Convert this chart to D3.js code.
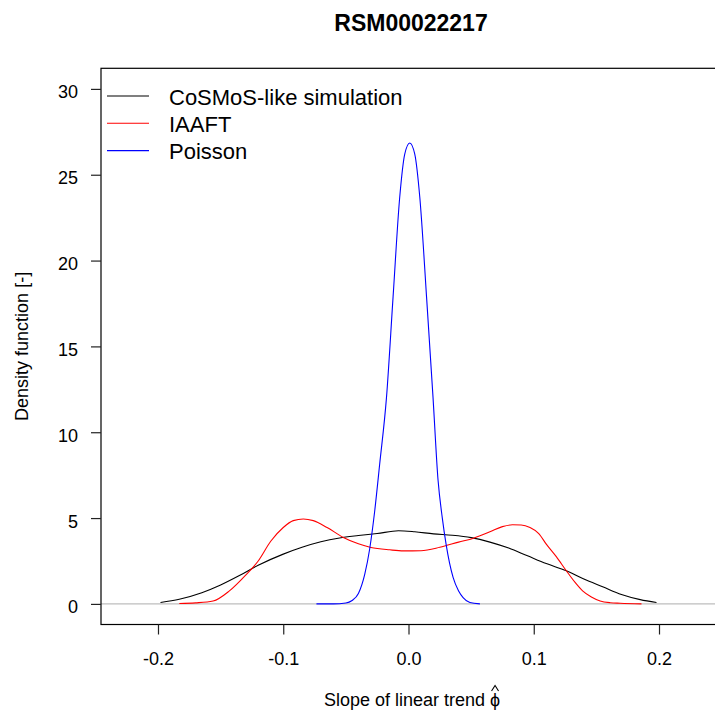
<!DOCTYPE html>
<html lang="en">
<head>
    <meta charset="UTF-8">
    <title>RSM00022217</title>
    <script src="https://cdn.jsdelivr.net/npm/d3@7"></script>
    <style>
        html, body {
            padding: 0;
            margin: 0;
            background: white;
        }

        svg {
            display: block;
            font-family: "Liberation Sans", Arial, sans-serif;
        }
    </style>
</head>
<body>
<div id="chart"></div>
<script>
    let title = "RSM00022217";

    // CoSMoS-like simulation (black)
    let cosmosX = [-0.198, -0.183, -0.165, -0.150, -0.135, -0.120, -0.100, -0.085, -0.070, -0.055, -0.040, -0.025,
        -0.008, 0.005, 0.020, 0.035, 0.050, 0.065, 0.080, 0.095, 0.110, 0.126, 0.140, 0.155, 0.170, 0.185, 0.198];
    let cosmosY = [0.08, 0.27, 0.65, 1.1, 1.65, 2.25, 2.9, 3.3, 3.62, 3.84, 3.98, 4.1,
        4.26, 4.2, 4.08, 4.0, 3.86, 3.6, 3.25, 2.8, 2.35, 1.93, 1.45, 1.0, 0.55, 0.25, 0.08];

    // IAAFT (red)
    let iaaftX = [-0.183, -0.170, -0.156, -0.143, -0.130, -0.120, -0.110, -0.100, -0.092, -0.084, -0.076, -0.065,
        -0.052, -0.040, -0.030, -0.015, -0.004, 0.010, 0.025, 0.040, 0.052, 0.065, 0.075, 0.083, 0.090, 0.097,
        0.104, 0.110, 0.118, 0.126, 0.133, 0.139, 0.146, 0.153, 0.161, 0.169, 0.186];
    let iaaftY = [0.02, 0.06, 0.17, 0.76, 1.68, 2.5, 3.65, 4.45, 4.85, 4.95, 4.85, 4.45,
        3.87, 3.5, 3.29, 3.15, 3.09, 3.1, 3.3, 3.6, 3.83, 4.2, 4.5, 4.61, 4.6, 4.45,
        4.1, 3.48, 2.75, 1.93, 1.25, 0.76, 0.4, 0.17, 0.07, 0.04, 0.0];

    // Poisson (blue)
    let poissonX = [-0.0735, -0.060, -0.050, -0.045, -0.040, -0.035, -0.031, -0.027, -0.023, -0.0176, -0.0123,
        -0.007, -0.003, 0.001, 0.005, 0.009, 0.0144, 0.0196, 0.0236, 0.027, 0.030, 0.0356, 0.040, 0.0436, 0.049, 0.057];
    let poissonY = [0, 0, 0.05, 0.2, 0.6, 1.7, 3.2, 5.4, 8.15, 12.0, 17.9,
        23.7, 26.2, 26.85, 26.2, 23.7, 17.9, 12.0, 7.2, 5.0, 3.48, 1.54, 0.75, 0.37, 0.08, 0];

    let legendLabels = ["CoSMoS-like simulation", "IAAFT", "Poisson"];
    let legendColors = ["#000000", "#ff0000", "#0000ff"];

    let xTicks = [-0.2, -0.1, 0.0, 0.1, 0.2];
    let yTicks = [0, 5, 10, 15, 20, 25, 30];

    let width = 715, height = 711;
    let pLeft = 101, pRight = 716, pTop = 68.3, pBottom = 624.5;

    let svg = d3.select("#chart").append("svg")
        .attr("width", width)
        .attr("height", height);

    let x = d3.scaleLinear().domain([-0.2455, 0.2455]).range([pLeft, pRight]);
    let y = d3.scaleLinear().domain([-1.2, 31.2]).range([pBottom, pTop]);

    // title
    svg.append("text")
        .text(title)
        .attr("x", 411)
        .attr("y", 31)
        .style("font-size", "23px")
        .style("font-weight", "700")
        .style("text-anchor", "middle");

    // clip for plot area
    svg.append("clipPath").attr("id", "clip")
        .append("rect")
        .attr("x", pLeft).attr("y", pTop)
        .attr("width", pRight - pLeft).attr("height", pBottom - pTop);

    let plot = svg.append("g").attr("clip-path", "url(#clip)");

    // zero line
    plot.append("line")
        .attr("x1", pLeft).attr("x2", pRight)
        .attr("y1", y(0)).attr("y2", y(0))
        .attr("stroke", "#bebebe")
        .attr("stroke-width", 1.3);

    let line = d3.line()
        .x(function (d) { return x(d[0]); })
        .y(function (d) { return y(d[1]); })
        .curve(d3.curveMonotoneX);

    let series = [
        [cosmosX, cosmosY, legendColors[0]],
        [iaaftX, iaaftY, legendColors[1]],
        [poissonX, poissonY, legendColors[2]]
    ];

    series.forEach(function (s) {
        let pts = s[0].map(function (v, i) { return [v, s[1][i]]; });
        plot.append("path")
            .datum(pts)
            .attr("d", line)
            .attr("fill", "none")
            .attr("stroke", s[2])
            .attr("stroke-width", 1.1);
    });

    // box
    svg.append("rect")
        .attr("x", pLeft).attr("y", pTop)
        .attr("width", pRight - pLeft).attr("height", pBottom - pTop)
        .attr("fill", "none")
        .attr("stroke", "#000")
        .attr("stroke-width", 1.2);

    // axes
    let xAxis = svg.append("g")
        .attr("transform", "translate(0," + pBottom + ")")
        .call(d3.axisBottom(x).tickValues(xTicks).tickSize(10));
    xAxis.select(".domain").remove();
    xAxis.selectAll("text")
        .attr("y", 40)
        .attr("dy", null)
        .style("font-size", "18px")
        .style("font-family", "'Liberation Sans', Arial, sans-serif")
        .attr("fill", "#000")
        .text(function (d) { return d3.format(".1f")(d).replace("\u2212", "-"); });
    xAxis.selectAll("line").attr("stroke", "#222").attr("stroke-width", 1.2);

    let yAxis = svg.append("g")
        .attr("transform", "translate(" + pLeft + ",0)")
        .call(d3.axisLeft(y).tickValues(yTicks).tickSize(10));
    yAxis.select(".domain").remove();
    yAxis.selectAll("text")
        .attr("x", -23)
        .attr("dy", "0.5em")
        .style("font-size", "18px")
        .style("font-family", "'Liberation Sans', Arial, sans-serif")
        .attr("fill", "#000");
    yAxis.selectAll("line").attr("stroke", "#222").attr("stroke-width", 1.2);

    // axis titles
    svg.append("text")
        .text("Density function [-]")
        .attr("transform", "translate(28," + ((pTop + pBottom) / 2) + ") rotate(-90)")
        .style("font-size", "18px")
        .style("text-anchor", "middle");

    // x title, with a small drawn hat over the phi
    let xl = svg.append("text")
        .attr("x", 412)
        .attr("y", 706)
        .style("font-size", "18px")
        .style("text-anchor", "middle")
        .text("Slope of linear trend \u03D5");
    let phiBox = xl.node().getExtentOfChar(xl.text().length - 1);
    let hx = phiBox.x + phiBox.width / 2;
    svg.append("path")
        .attr("d", "M" + (hx - 3.5) + ",691L" + hx + ",685.5L" + (hx + 3.5) + ",691")
        .attr("fill", "none")
        .attr("stroke", "#000")
        .attr("stroke-width", 1.1);

    // legend
    let lg = svg.append("g");
    legendLabels.forEach(function (lab, i) {
        let ly = 96 + i * 27.3;
        lg.append("line")
            .attr("x1", 107).attr("x2", 149)
            .attr("y1", ly).attr("y2", ly)
            .attr("stroke", legendColors[i])
            .attr("stroke-width", 1.1);
        lg.append("text")
            .text(lab)
            .attr("x", 169)
            .attr("y", ly + 8.5)
            .style("font-size", "22px");
    });
</script>
</body>
</html>
